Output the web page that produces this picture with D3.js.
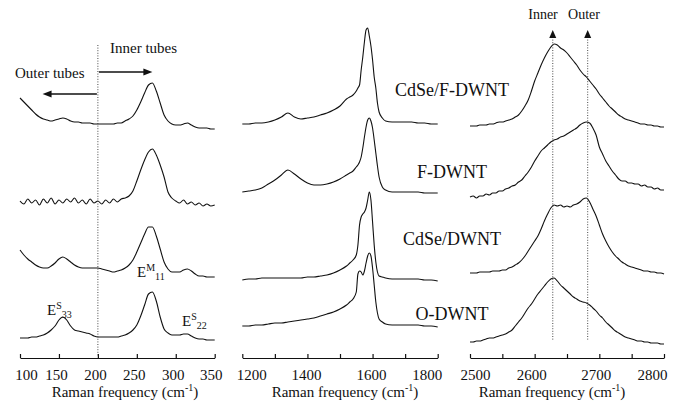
<!DOCTYPE html>
<html><head><meta charset="utf-8">
<script src="https://cdn.jsdelivr.net/npm/d3@7"></script>
<style>
body{margin:0;background:#fff}
svg{display:block}
text{font-family:"Liberation Serif","Times New Roman",Times,"DejaVu Serif",serif;fill:#111}
</style>
</head><body><svg id="c" width="682" height="404"></svg>
<script>
// ---------- DATA ----------
const sampleNames = ["CdSe/F-DWNT", "F-DWNT", "CdSe/DWNT", "O-DWNT"];

// RBM region (cm-1)
const rbmFreq = [100,105,110,115,120,125,130,135,140,145,150,155,160,165,170,175,180,185,190,195,200,205,210,215,220,225,230,235,240,245,250,255,260,265,270,275,280,285,290,295,300,305,310,315,320,325,330,335,340,345,350];
const rbmCdSeF = [260,256,252,248,244,241,239,238,237,238,239,240,239,237,236,236,235,235,235,234,234,234,234,234,234,235,235,237,239,242,248,256,265,273,275,267,255,243,237,234,233,233,234,235,233,231,230,230,230,229,229];
const rbmF = [157,154,159,155,158,153,159,155,160,154,158,155,159,156,160,155,158,154,159,155,157,154,158,155,159,156,159,160,162,167,177,188,198,206,209,203,193,181,166,160,157,155,158,154,156,153,155,152,154,152,153];
const rbmCdSe = [108,103,99,96,93,91,90,90,92,95,99,101,99,96,93,91,90,90,90,90,90,89,88,87,86,87,88,90,93,98,106,115,124,131,131,122,109,96,89,86,86,86,88,89,87,84,82,82,81,81,81];
const rbmO = [20,20,20,21,21,22,23,25,28,32,38,41,38,32,28,27,26,25,24,22,21,21,21,21,21,21,22,23,25,28,33,42,53,64,66,57,41,29,25,23,23,23,24,24,22,20,19,19,18,18,18];
const rbmTicks = [100,150,200,250,300,350];
const rbmLabels = [100,150,200,250,300,350];

// G band region
const gFreq = [1200,1220,1240,1260,1280,1300,1320,1340,1360,1380,1400,1420,1440,1460,1480,1500,1520,1530,1540,1550,1555,1560,1565,1570,1575,1580,1585,1590,1595,1600,1605,1610,1615,1620,1630,1640,1660,1680,1700,1720,1740,1760,1780,1800];
const gCdSeF = [234,234,235,235,236,238,241,245,241,239,240,241,243,245,248,252,259,261,263,267,270,273,288,301,316,328,330,322,312,298,281,270,255,246,240,237,236,236,236,236,235,235,234,234];
const gF = [166,167,168,170,174,178,183,188,184,179,175,173,173,174,176,179,183,185,187,191,193,196,201,210,221,231,238,240,237,230,218,205,192,181,171,168,166,166,166,166,166,165,165,165];
const gCdSe = [78,79,79,80,80,80,80,80,80,80,81,81,82,83,85,88,92,95,98,103,113,133,141,144,146,150,158,166,158,136,113,96,86,82,81,80,79,79,79,79,79,78,78,77];
const gO = [32,32,33,33,34,35,35,36,37,38,39,40,42,44,46,49,53,56,59,66,84,87,86,83,87,95,102,105,102,90,73,56,45,39,36,34,33,33,33,33,33,32,32,31];
const gTicks = [1200,1300,1400,1500,1600,1700,1800];
const gLabels = [1200,1400,1600,1800];

// 2D band region
const dFreq = [2500,2505,2510,2515,2520,2525,2530,2535,2540,2545,2550,2555,2560,2565,2570,2575,2580,2585,2590,2595,2600,2605,2610,2615,2620,2625,2630,2635,2640,2645,2650,2655,2660,2665,2670,2675,2680,2685,2690,2695,2700,2705,2710,2715,2720,2725,2730,2735,2740,2745,2750,2755,2760,2765,2770,2775,2780,2785,2790,2795,2800];
const dCdSeF = [232,232,232,233,233,233,234,234,235,236,236,237,238,239,241,243,247,252,258,267,277,285,293,300,306,311,314,313,310,308,305,301,297,293,288,284,281,277,273,269,264,260,256,252,249,246,243,241,239,238,237,236,235,234,234,233,233,232,232,231,231];
const dF = [161,162,160,162,162,164,163,165,165,167,167,169,170,172,173,176,178,182,186,191,197,202,207,210,213,216,218,219,221,222,224,226,228,230,233,235,236,235,230,223,211,204,197,192,187,183,179,177,177,175,175,174,174,172,173,171,171,169,170,168,168];
const dCdSe = [85,85,85,86,86,86,86,87,87,87,88,88,90,91,93,95,98,102,107,112,117,122,129,137,144,150,153,152,153,151,152,151,153,154,156,159,160,156,149,142,133,124,117,111,106,102,99,96,94,92,91,90,89,88,87,87,86,86,85,85,84];
const dO = [16,16,17,17,18,19,20,20,21,22,23,24,26,28,32,36,40,45,50,54,59,64,68,72,76,79,80,77,73,70,67,64,61,59,57,56,55,53,50,47,43,40,36,33,30,27,25,23,21,20,19,18,17,17,16,16,15,15,15,14,14];
const dTicks = [2500,2550,2600,2650,2700,2750,2800];
const dLabels = [2500,2600,2700,2800];

const innerOuterFreq = [2628, 2682];
const rbmDivider = 200;

// ---------- DRAW ----------
const svg = d3.select('#c');
const FONT = '"Liberation Serif","Times New Roman",Times,"DejaVu Serif",serif';
const INK = '#111';
const axisY = 358;
const y = d3.scaleLinear().domain([0, 340]).range([axisY, 18]);

const panels = [
  {freq: rbmFreq, series: [rbmCdSeF, rbmF, rbmCdSe, rbmO], x: d3.scaleLinear().domain([100, 350]).range([20, 214.7]),
   ticks: rbmTicks, labels: rbmLabels, firstDx: 6, lastDx: -4, midDx: -3, titleX: 125},
  {freq: gFreq, series: [gCdSeF, gF, gCdSe, gO], x: d3.scaleLinear().domain([1200, 1800]).range([242.3, 437.7]),
   ticks: gTicks, labels: gLabels, firstDx: 9, lastDx: -11, midDx: -1.5, titleX: 345},
  {freq: dFreq, series: [dCdSeF, dF, dCdSe, dO], x: d3.scaleLinear().domain([2500, 2800]).range([470, 664]),
   ticks: dTicks, labels: dLabels, firstDx: 5, lastDx: -12, midDx: -3.5, titleX: 552}
];

panels.forEach(p => {
  const line = d3.line().x((d, i) => p.x(p.freq[i])).y(d => y(d)).curve(d3.curveMonotoneX);
  p.series.forEach(s => {
    svg.append('path').attr('d', line(s)).attr('fill', 'none')
      .attr('stroke', INK).attr('stroke-width', 1.1).attr('stroke-linejoin', 'round');
  });
  const ax = d3.axisBottom(p.x).tickValues(p.ticks).tickSizeInner(-4).tickSizeOuter(0)
    .tickFormat(d => p.labels.includes(d) ? d : '');
  const g = svg.append('g').attr('transform', `translate(0,${axisY})`).call(ax)
    .attr('font-family', FONT).attr('font-size', 15);
  g.select('.domain').attr('stroke', INK).attr('stroke-width', 1.2);
  g.selectAll('.tick line').attr('stroke', INK).attr('stroke-width', 1.2);
  const n = p.ticks.length;
  g.selectAll('.tick text').attr('y', 22).attr('dy', 0).attr('fill', INK)
    .style('font-family', FONT)
    .attr('dx', (d, i) => i === 0 ? p.firstDx : (i === n - 1 ? p.lastDx : p.midDx));
  const t = svg.append('text').attr('x', p.titleX).attr('y', 397).attr('text-anchor', 'middle')
    .attr('font-size', 15);
  t.append('tspan').text('Raman frequency (cm');
  t.append('tspan').attr('font-size', 10).attr('dy', -6).text('-1');
  t.append('tspan').attr('dy', 6).text(')');
});

// ----- Panel 1 annotations -----
const x1 = panels[0].x;
svg.append('line').attr('x1', x1(rbmDivider)).attr('x2', x1(rbmDivider)).attr('y1', 45).attr('y2', 356)
  .attr('stroke', '#333').attr('stroke-width', 0.9).attr('stroke-dasharray', '1,1.6');
function arrow(xa, xb, yy) {
  const dir = xb > xa ? 1 : -1;
  svg.append('line').attr('x1', xa).attr('x2', xb - dir * 7).attr('y1', yy).attr('y2', yy)
    .attr('stroke', INK).attr('stroke-width', 1.5);
  svg.append('path').attr('d', `M${xb},${yy} L${xb - dir * 9},${yy - 3.5} L${xb - dir * 9},${yy + 3.5} Z`).attr('fill', INK);
}
arrow(x1(rbmDivider) + 1, x1(270), 72);
arrow(x1(rbmDivider) - 1, x1(129), 94);
svg.append('text').attr('x', 110).attr('y', 53).attr('font-size', 15).text('Inner tubes');
svg.append('text').attr('x', 15).attr('y', 78).attr('font-size', 15).text('Outer tubes');

function eLabel(xx, yy, sup, sub) {
  const t = svg.append('text').attr('x', xx).attr('y', yy).attr('font-size', 15);
  t.append('tspan').text('E');
  t.append('tspan').attr('font-size', 10).attr('dy', -6).text(sup);
  t.append('tspan').attr('font-size', 10).attr('dy', 9).text(sub);
}
eLabel(47, 315, 'S', '33');
eLabel(137, 277, 'M', '11');
eLabel(182, 326, 'S', '22');

// ----- Panel 2 sample labels -----
const labelY = [96, 178, 245, 320];
sampleNames.forEach((nm, i) => {
  svg.append('text').attr('x', 452).attr('y', labelY[i]).attr('text-anchor', 'middle')
    .attr('font-size', 18).text(nm);
});

// ----- Panel 3 annotations -----
const x3 = panels[2].x;
innerOuterFreq.forEach(f => {
  const xx = x3(f);
  svg.append('line').attr('x1', xx).attr('x2', xx).attr('y1', 37).attr('y2', 340)
    .attr('stroke', '#333').attr('stroke-width', 0.9).attr('stroke-dasharray', '1,1.6');
  svg.append('path').attr('d', `M${xx},${30} L${xx - 3.5},${38} L${xx + 3.5},${38} Z`).attr('fill', INK);
});
svg.append('text').attr('x', 543).attr('y', 19).attr('text-anchor', 'middle').attr('font-size', 14).text('Inner');
svg.append('text').attr('x', 584).attr('y', 19).attr('text-anchor', 'middle').attr('font-size', 14).text('Outer');
</script>
</body></html>
